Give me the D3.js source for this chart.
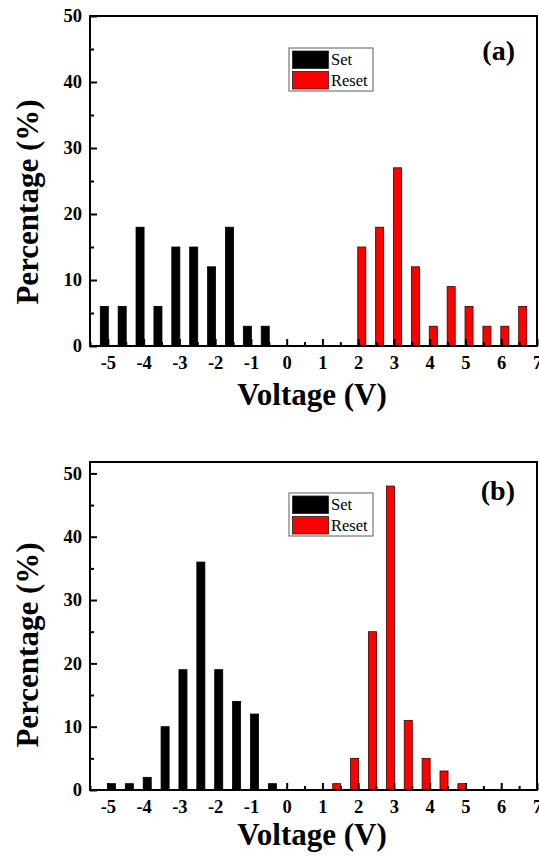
<!DOCTYPE html>
<html>
<head>
<meta charset="utf-8">
<script src="https://cdn.jsdelivr.net/npm/d3@7"></script>
<style>
  html, body { margin: 0; padding: 0; background: #fff; }
  svg { display: block; }
</style>
</head>
<body>
<script>
// Switching-voltage distributions (set / reset) for two devices

// Panel (a)
const setVoltA   = [-5.1, -4.6, -4.1, -3.6, -3.1, -2.6, -2.1, -1.6, -1.1, -0.6];
const setPctA    = [6, 6, 18, 6, 15, 15, 12, 18, 3, 3];
const resetVoltA = [2.1, 2.6, 3.1, 3.6, 4.1, 4.6, 5.1, 5.6, 6.1, 6.6];
const resetPctA  = [15, 18, 27, 12, 3, 9, 6, 3, 3, 6];

// Panel (b)
const setVoltB   = [-4.9, -4.4, -3.9, -3.4, -2.9, -2.4, -1.9, -1.4, -0.9, -0.4];
const setPctB    = [1, 1, 2, 10, 19, 36, 19, 14, 12, 1];
const resetVoltB = [1.4, 1.9, 2.4, 2.9, 3.4, 3.9, 4.4, 4.9];
const resetPctB  = [1, 5, 25, 48, 11, 5, 3, 1];

// Axis ticks
const xMajorTicks = [-5, -4, -3, -2, -1, 0, 1, 2, 3, 4, 5, 6, 7];
const xMinorTicks = [-5.5, -4.5, -3.5, -2.5, -1.5, -0.5, 0.5, 1.5, 2.5, 3.5, 4.5, 5.5, 6.5];
const yMajorTicks = [0, 10, 20, 30, 40, 50];
const yMinorTicks = [5, 15, 25, 35, 45];

const seriesNames = ["Set", "Reset"];
const seriesColors = ["#000000", "#ff0000"];

const W = 539, H = 856;
const FONT = "Liberation Serif";
const barWidthV = 0.225;   // bar width in volts

const panels = [
  { tag: "(a)", top: 16,  bottom: 346, yMax: 50,
    set: { v: setVoltA, p: setPctA }, reset: { v: resetVoltA, p: resetPctA },
    tagY: 60, legendY: 48, yTitleY: 202, xTitleY: 405 },
  { tag: "(b)", top: 462, bottom: 790, yMax: 51.8,
    set: { v: setVoltB, p: setPctB }, reset: { v: resetVoltB, p: resetPctB },
    tagY: 500, legendY: 493, yTitleY: 645, xTitleY: 845 }
];

const left = 90, right = 537;

const svg = d3.select("body").append("svg")
  .attr("width", W).attr("height", H)
  .attr("font-family", FONT);

panels.forEach(pn => {
  const x = d3.scaleLinear().domain([-5.5, 7]).range([left, right]);
  const y = d3.scaleLinear().domain([0, pn.yMax]).range([pn.bottom, pn.top]);
  const g = svg.append("g");

  // bars
  const drawBars = (s, color, stroke) => {
    const rows = s.v.map((v, i) => ({ v, p: s.p[i] }));
    g.selectAll(null).data(rows).enter().append("rect")
      .attr("x", d => x(d.v - barWidthV / 2))
      .attr("width", d => x(d.v + barWidthV / 2) - x(d.v - barWidthV / 2))
      .attr("y", d => y(d.p))
      .attr("height", d => y(0) - y(d.p))
      .attr("fill", color)
      .attr("stroke", stroke)
      .attr("stroke-width", 0.8);
  };
  drawBars(pn.set, seriesColors[0], "#000");
  drawBars(pn.reset, seriesColors[1], "#3a0000");

  // x axis: labelled major ticks, unlabelled minor ticks, all pointing inward
  const xAxis = d3.axisBottom(x).tickValues(xMajorTicks).tickSize(-7)
    .tickPadding(10).tickFormat(d => d < 0 ? "-" + Math.abs(d) : String(d));
  const gx = g.append("g").attr("transform", `translate(0,${pn.bottom})`).call(xAxis);
  const gxm = g.append("g").attr("transform", `translate(0,${pn.bottom})`)
    .call(d3.axisBottom(x).tickValues(xMinorTicks).tickSize(-4).tickFormat(""));

  // y axis
  const yAxis = d3.axisLeft(y).tickValues(yMajorTicks).tickSize(-7)
    .tickPadding(8).tickFormat(d3.format("d"));
  const gy = g.append("g").attr("transform", `translate(${left},0)`).call(yAxis);
  const gym = g.append("g").attr("transform", `translate(${left},0)`)
    .call(d3.axisLeft(y).tickValues(yMinorTicks).tickSize(-4).tickFormat(""));

  [gx, gxm, gy, gym].forEach(a => {
    a.attr("font-family", FONT).attr("font-size", 18.5).attr("font-weight", "bold");
    a.select(".domain").remove();
    a.selectAll(".tick line").attr("stroke", "#000").attr("stroke-width", 2);
    a.selectAll(".tick text").attr("fill", "#000");
  });

  // frame
  g.append("rect")
    .attr("x", left).attr("y", pn.top)
    .attr("width", right - left).attr("height", pn.bottom - pn.top)
    .attr("fill", "none").attr("stroke", "#000").attr("stroke-width", 2);

  // axis titles
  g.append("text")
    .attr("transform", `translate(38,${pn.yTitleY}) rotate(-90)`)
    .attr("text-anchor", "middle")
    .attr("font-weight", "bold").attr("font-size", 31)
    .text("Percentage (%)");
  g.append("text")
    .attr("x", 312).attr("y", pn.xTitleY)
    .attr("text-anchor", "middle")
    .attr("font-weight", "bold").attr("font-size", 31)
    .text("Voltage (V)");

  // panel tag
  g.append("text")
    .attr("x", 515).attr("y", pn.tagY)
    .attr("text-anchor", "end")
    .attr("font-weight", "bold").attr("font-size", 28)
    .text(pn.tag);

  // legend
  const lg = g.append("g").attr("transform", `translate(289,${pn.legendY})`);
  lg.append("rect").attr("x", 0).attr("y", 0).attr("width", 84).attr("height", 43)
    .attr("fill", "#fff").attr("stroke", "#777").attr("stroke-width", 1.2);
  seriesNames.forEach((name, i) => {
    lg.append("rect")
      .attr("x", 3.5).attr("y", 3 + i * 20.5)
      .attr("width", 36).attr("height", 17.5)
      .attr("fill", seriesColors[i]).attr("stroke", "#222").attr("stroke-width", 0.8);
    lg.append("text")
      .attr("x", 42).attr("y", 16.5 + i * 21.5)
      .attr("font-size", 16.5)
      .text(name);
  });
});
</script>
</body>
</html>
